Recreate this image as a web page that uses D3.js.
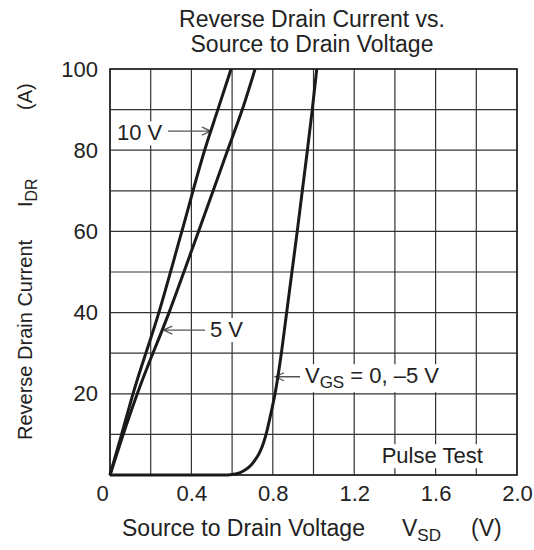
<!DOCTYPE html>
<html>
<head>
<meta charset="utf-8">
<script src="https://cdn.jsdelivr.net/npm/d3@7"></script>
<style>
  body { margin: 0; background: #fff; }
  text { font-family: "Liberation Sans", Arial, sans-serif; fill: #222; }
</style>
</head>
<body>
<script>
// tick labels
const voltageTicks = [0, 0.4, 0.8, 1.2, 1.6, 2.0];
const currentTicks = [20, 40, 60, 80, 100];

// VGS = 10 V
const vsd10V = [0, 0.057, 0.113, 0.24, 0.353, 0.465, 0.53, 0.595];
const idr10V = [0, 10, 20, 40, 60, 80, 90, 100];
// VGS = 5 V
const vsd5V = [0, 0.065, 0.134, 0.29, 0.435, 0.578, 0.65, 0.713];
const idr5V = [0, 10, 20, 40, 60, 80, 90, 100];
// VGS = 0, -5 V
const vsd0V = [0, 0.58, 0.60, 0.64, 0.68, 0.71, 0.735, 0.755, 0.772, 0.79, 0.811, 0.842, 0.868, 0.894, 0.92, 0.945, 0.97, 0.994, 1.016];
const idr0V = [0, 0, 0.1, 0.6, 1.8, 3.5, 5.5, 8, 11, 15, 20, 30, 40, 50, 60, 70, 80, 90, 100];

const width = 534;
const height = 550;
const margin = {top: 69, right: 17, bottom: 75, left: 110};

let svg = d3.select("body").append("svg")
    .attr("width", width)
    .attr("height", height);

let x = d3.scaleLinear().domain([0, 2]).range([margin.left, width - margin.right]);
let y = d3.scaleLinear().domain([0, 100]).range([height - margin.bottom, margin.top]);

// grid
svg.append("g").selectAll("line")
    .data(x.ticks(10))
    .enter().append("line")
    .attr("x1", d => x(d)).attr("x2", d => x(d))
    .attr("y1", y(0)).attr("y2", y(100))
    .attr("stroke", "#333").attr("stroke-width", 1.2);

svg.append("g").selectAll("line")
    .data(y.ticks(10))
    .enter().append("line")
    .attr("y1", d => y(d)).attr("y2", d => y(d))
    .attr("x1", x(0)).attr("x2", x(2))
    .attr("stroke", "#333").attr("stroke-width", 1.2);

svg.append("rect")
    .attr("x", x(0)).attr("y", y(100))
    .attr("width", x(2) - x(0)).attr("height", y(0) - y(100))
    .attr("fill", "none").attr("stroke", "#222").attr("stroke-width", 1.6);

// axes
let xAxis = svg.append("g")
    .attr("transform", `translate(0,${y(0)})`)
    .call(d3.axisBottom(x).tickValues(voltageTicks).tickSize(0).tickPadding(10)
        .tickFormat(d => d === 0 ? "0" : d3.format(".1f")(d)));
xAxis.select(".domain").remove();
xAxis.selectAll("text").attr("font-size", 22)
    .attr("dx", d => d === 0 ? -8 : 0);

let yAxis = svg.append("g")
    .attr("transform", `translate(${x(0)},0)`)
    .call(d3.axisLeft(y).tickValues(currentTicks).tickSize(0).tickPadding(12));
yAxis.select(".domain").remove();
yAxis.selectAll("text").attr("font-size", 22);

// annotations (white boxes behind text)
const notes = [
    {main: "10 V", sub: "", rest: "", tx: 0.034, ty: 82.4, from: 0.285, to: 0.496, ay: 84.7},
    {main: "5 V", sub: "", rest: "", tx: 0.491, ty: 34.0, from: 0.467, to: 0.262, ay: 35.7},
    {main: "V", sub: "GS", rest: " = 0, \u20135 V", tx: 0.958, ty: 22.6, from: 0.934, to: 0.811, ay: 24.2},
    {main: "Pulse Test", sub: "", rest: "", tx: 1.335, ty: 2.9}
];

notes.forEach(function(n) {
    let g = svg.append("g");
    let t = g.append("text")
        .attr("x", x(n.tx)).attr("y", y(n.ty))
        .attr("font-size", 22);
    t.append("tspan").text(n.main);
    if (n.sub) {
        t.append("tspan").attr("font-size", 17).attr("dy", 5).text(n.sub);
        t.append("tspan").attr("dy", -5).text(n.rest);
    }
    let bb = t.node().getBBox();
    g.insert("rect", "text")
        .attr("x", bb.x - 4).attr("y", bb.y + 1)
        .attr("width", bb.width + 8).attr("height", bb.height - 1)
        .attr("fill", "#fff");
    if (n.from !== undefined) {
        let x0 = x(n.from), x1 = x(n.to), ay = y(n.ay);
        let dir = x1 > x0 ? 1 : -1;
        g.append("path")
            .attr("d", `M${x0},${ay}H${x1}M${x1 - dir * 9},${ay - 4}L${x1},${ay}L${x1 - dir * 9},${ay + 4}`)
            .attr("fill", "none").attr("stroke", "#555").attr("stroke-width", 1.3);
    }
});

// curves
let line = d3.line()
    .x(d => x(d[0]))
    .y(d => y(d[1]))
    .curve(d3.curveMonotoneX);

[[vsd10V, idr10V], [vsd5V, idr5V], [vsd0V, idr0V]].forEach(function(s) {
    svg.append("path")
        .datum(d3.zip(s[0], s[1]))
        .attr("d", line)
        .attr("fill", "none")
        .attr("stroke", "#1a1a1a")
        .attr("stroke-width", 3);
});

// title
svg.append("text").attr("x", 312).attr("y", 27).attr("text-anchor", "middle")
    .attr("font-size", 23).text("Reverse Drain Current vs.");
svg.append("text").attr("x", 312).attr("y", 52).attr("text-anchor", "middle")
    .attr("font-size", 23).text("Source to Drain Voltage");

// x label
let xl = svg.append("text").attr("y", 536).attr("font-size", 23);
xl.append("tspan").attr("x", 122).text("Source to Drain Voltage");
xl.append("tspan").attr("x", 402).text("V");
xl.append("tspan").attr("font-size", 17).attr("dy", 5).text("SD");
xl.append("tspan").attr("x", 471).attr("dy", -5).text("(V)");

// y label
let yl = svg.append("text").attr("font-size", 20)
    .attr("transform", "translate(32,440) rotate(-90)");
yl.append("tspan").attr("x", 0).text("Reverse Drain Current");
yl.append("tspan").attr("x", 233).text("I");
yl.append("tspan").attr("font-size", 16).attr("dy", 5).text("DR");
yl.append("tspan").attr("x", 330).attr("dy", -5).text("(A)");
</script>
</body>
</html>
